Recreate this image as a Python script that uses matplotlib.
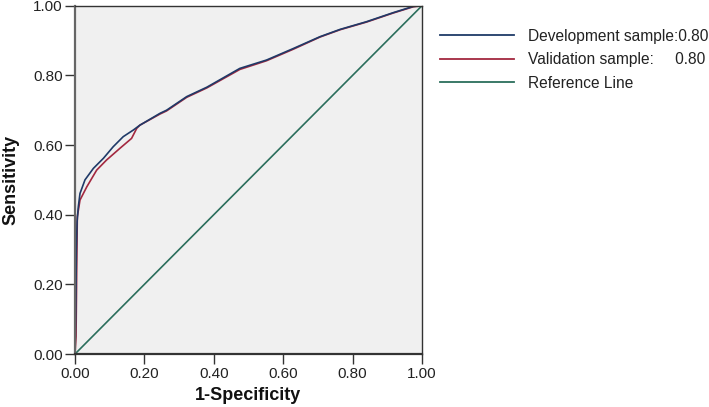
import matplotlib
matplotlib.use("Agg")
import matplotlib.pyplot as plt
from matplotlib.lines import Line2D

plt.rcParams['font.family'] = ['Liberation Sans', 'DejaVu Sans']

dev_fpr = [0, 0.002, 0.004, 0.006, 0.0096, 0.0144, 0.0288, 0.053, 0.082, 0.110, 0.139, 0.168, 0.187,
           0.245, 0.264, 0.322, 0.38, 0.475, 0.552, 0.629, 0.706, 0.764, 0.84, 0.917, 0.975, 1.0]
dev_tpr = [0, 0.10, 0.30, 0.38, 0.423, 0.461, 0.50, 0.533, 0.562, 0.595, 0.624, 0.643, 0.657,
           0.691, 0.700, 0.739, 0.766, 0.82, 0.844, 0.877, 0.911, 0.932, 0.954, 0.98, 0.998, 1.0]

val_fpr = [0, 0.003, 0.005, 0.0067, 0.0144, 0.034, 0.0625, 0.091, 0.130, 0.163, 0.178, 0.187,
           0.245, 0.264, 0.322, 0.38, 0.475, 0.552, 0.629, 0.706, 0.764, 0.84, 0.917, 0.975, 1.0]
val_tpr = [0, 0.05, 0.25, 0.394, 0.442, 0.480, 0.528, 0.557, 0.591, 0.619, 0.648, 0.657,
           0.689, 0.698, 0.737, 0.764, 0.817, 0.842, 0.875, 0.910, 0.931, 0.953, 0.979, 0.997, 1.0]

ref_x = [0, 1]
ref_y = [0, 1]

ticks = [0.0, 0.2, 0.4, 0.6, 0.8, 1.0]
tick_labels = ["0.00", "0.20", "0.40", "0.60", "0.80", "1.00"]
labels = ["Development sample:0.80", "Validation sample:     0.80", "Reference Line"]

c_dev = "#1f3a68"
c_val = "#a3283f"
c_ref = "#2b6e5c"

fig = plt.figure(figsize=(7.09, 4.07), dpi=100)
ax = fig.add_axes([75/709, 1-354/407, 347/709, (354-5.7)/407])
ax.set_facecolor("#f0f0f0")

ax.plot(ref_x, ref_y, color=c_ref, lw=1.2)
ax.plot(val_fpr, val_tpr, color=c_val, lw=1.2)
ax.plot(dev_fpr, dev_tpr, color=c_dev, lw=1.2)

ax.set_xlim(0, 1)
ax.set_ylim(0, 1)
ax.set_xticks(ticks)
ax.set_xticklabels(tick_labels)
ax.set_yticks(ticks)
ax.set_yticklabels(tick_labels)
ax.tick_params(direction='out', length=7, width=1, color='#333333', labelsize=11, labelcolor='#222222', pad=2)
for s in ax.spines.values():
    s.set_color('#333333')
    s.set_linewidth(1.0)
ax.spines['left'].set_color('#666666')
ax.spines['left'].set_linewidth(1.6)
ax.spines['bottom'].set_linewidth(1.6)

ax.set_xlabel("1-Specificity", fontsize=13, fontweight='bold', labelpad=5, color='#111111')
ax.set_ylabel("Sensitivity", fontsize=13, fontweight='bold', labelpad=10, color='#111111')

handles = [Line2D([], [], color=c_dev, lw=1.3),
           Line2D([], [], color=c_val, lw=1.3),
           Line2D([], [], color=c_ref, lw=1.3)]
leg = fig.legend(handles, labels, loc='upper left', bbox_to_anchor=(435/709, 1-24/407),
                 frameon=False, fontsize=11.2, handlelength=4.8, handletextpad=0.9,
                 labelspacing=0.55, borderaxespad=0, borderpad=0.3)
for t in leg.get_texts():
    t.set_color('#222222')

fig.savefig("out.png", dpi=100)
